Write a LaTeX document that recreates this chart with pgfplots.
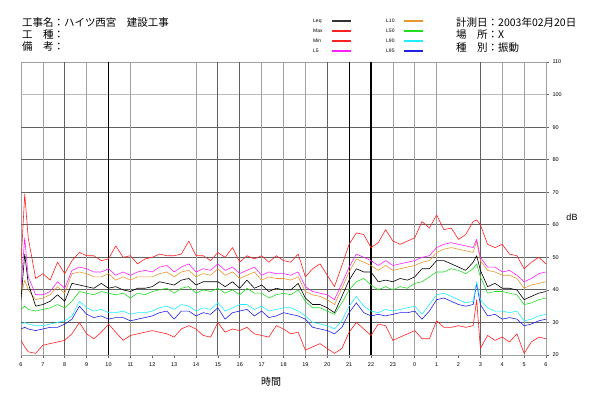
\documentclass[border=0pt]{standalone}
\usepackage{pgfplots}
\usepackage{pgfplotstable}
\pgfplotsset{compat=1.18}
\usepackage{fontspec}
\setmainfont{Liberation Sans}
\newfontfamily\jp{Noto Sans CJK JP}
\definecolor{cMax}{HTML}{FF2020}
\definecolor{cL5}{HTML}{FF20FF}
\definecolor{cL10}{HTML}{E89830}
\definecolor{cL50}{HTML}{22DD22}
\definecolor{cL90}{HTML}{20EEFF}
\definecolor{cL95}{HTML}{2020E8}
\definecolor{gDark}{HTML}{606060}
\definecolor{gMid}{HTML}{A0A0A0}
\definecolor{gLight}{HTML}{BBBBBB}

\pgfplotstableread{
h mx l5 l10 leq l50 l90 l95 mn
6.00 48 41 38 37 34 29.5 28 24.5
6.17 69.5 56 43 51 35 30 28.5 22.5
6.33 56 44 40 42 34 29.5 28 21
6.67 43.5 38.5 37 35 33.5 29 27.5 20.5
7.00 45 38.5 37.5 35.5 34 29 28 23
7.33 43 39.5 38.5 36.5 34.5 29.5 28.5 23.5
7.67 48.5 42.5 41 38.5 35.5 30 28.5 24
8.00 45 40.5 39 36.5 34.5 30.5 29.5 24.5
8.33 49 46 45 42 36.5 32 31 26.5
8.67 51.5 47 45.5 41.5 39.5 36.5 35 30
9.00 50.5 46.5 45 41 39 34.5 32.5 26.5
9.33 50.5 45.5 44 40.5 38.5 33.5 31.5 25
9.67 49 45.5 44 42 39.5 34 32 27
10.00 49.5 46.5 45 40.5 39 33 31 29.5
10.33 53.5 44.5 43 41 38.5 33 31.5 27
10.67 50 45.5 44 40 39 33.5 31.5 24.5
11.00 50.5 44.5 43 39.5 37.5 32.5 30.5 26
11.33 48 45.5 44 40.5 39 33 31 26.5
11.67 49.5 46 44 40.5 38.5 33 31.5 27
12.00 50 45.5 44 41 39.5 33.5 32 27.5
12.33 51 47 45 42.5 40 34.5 33 27
12.67 50.5 47.5 45.5 42 40.5 35 33.5 26.5
13.00 50.5 45.5 44 41.5 39 34 31 25.5
13.33 51 47 45.5 43 40.5 35.5 33.5 28
13.67 55 48 46 43.5 41 35 33.5 29
14.00 50.5 45.5 44 41.5 39 33.5 32 28
14.33 50.5 46.5 45 42.5 40 34.5 33 26
14.67 49 46 44.5 42.5 39.5 34 32.5 25.5
15.00 51.5 48 46.5 42.5 40.5 36 34.5 30
15.33 50 46 44.5 41 39 33.5 31 27
15.67 53 47 45.5 42.5 40 34.5 33 28
16.00 48.5 45 43.5 40.5 38.5 35.5 33.5 27.5
16.33 50.5 46 44.5 43 40.5 35.5 34 28.5
16.67 49.5 47 45.5 40.5 39 34 32 26.5
17.00 50.5 44.5 43 41.5 39 35 33.5 26
17.33 48.5 45.5 44 39.5 37.5 33.5 31.5 25.5
17.67 50.5 45 43.5 40.5 38.5 34 32 29
18.00 49 45 43.5 40 39 34.5 33 28
18.33 48.5 44.5 43 40 38.5 34.5 32.5 26.5
18.67 51 45.5 44 42 40 33.5 32 27
19.00 44 41 39.5 37.5 36.5 32 31 21.5
19.33 46.5 39.5 38.5 35.5 34.5 30 28.5 22.5
19.67 48 39 38 35.5 34.5 29.5 28 23.5
20.00 44.5 38.5 37 34.5 33.5 29 27.5 22
20.33 41 37 35.5 33 32.5 28 26.5 20.5
20.67 47.5 42 40.5 38 36 30.5 28.5 22
21.00 54 47 45.5 43 40 35 33 27
21.33 57.5 51 49.5 46.5 42.5 38 36 30
21.67 57 50 48.5 45.5 43.5 35 33 28
22.00 53 49 47.5 45.5 41.5 33.5 32 26
22.33 54.5 47.5 46 42.5 40 33 32.5 29.5
22.67 58.5 49 47.5 43 41 34 32 29
23.00 55 47.5 46 42.5 40 33.5 32.5 24.5
23.33 54 48 46.5 43.5 41 34 33 25.5
23.67 55 48.5 47 43 40.5 34.5 33 26.5
24.00 56 49 47.5 44 42 35 33.5 27.5
24.33 61 50 48.5 46.5 42.5 32.5 31 25
24.67 59 50.5 49 46.5 44 35.5 33.5 25
25.00 63 53 51.5 49 45.5 38.5 37 30.5
25.33 58.5 54 52.5 49 45.5 39 37.5 28.5
25.67 59 54.5 53 48 46.5 38 36.5 28.5
26.00 55.5 54 52.5 47 46 37 35.5 29
26.33 57 53.5 52 46 45 36 35 28.5
26.67 61 53 51.5 48.5 46.5 36.5 35.5 29
26.83 61.5 55.5 55 50.5 48 42.5 42 37
27.00 60 50 49 46 44 37 35.5 22
27.33 54 47 46 41 39 34.5 32 26
27.67 53 47 45.5 42 39.5 33.5 32.5 24.5
28.00 54 45.5 44.5 40.5 39.5 33.5 31 25.5
28.33 51 46 44.5 40.5 39 33 31.5 24
28.67 50.5 44.5 43.5 40 38.5 33.5 31 26.5
29.00 46.5 42.5 40.5 37 35.5 30.5 29 20.5
29.33 48.5 43.5 41.5 38 36 31 29.5 24
29.67 50 45 42 39 37 32 30.5 25.5
30.00 48 45.5 42.5 39.5 37.5 32.5 31 25
}\data

\begin{document}
\begin{tikzpicture}[x=1pt,y=1pt]
\path[use as bounding box] (0,0) rectangle (598,400);
% header
\begin{scope}[every node/.style={anchor=west, inner sep=0pt, font=\jp\fontsize{10.5}{12}\selectfont}]
\node at (22,377) {工事名：ハイツ西宮　建設工事};
\node at (22,365) {工　種：};
\node at (22,353) {備　考：};
\node at (456,377) {計測日：2003年02月20日};
\node at (456,365) {場　所：X};
\node at (456,352) {種　別：振動};
\end{scope}
% legend
\begin{scope}[every node/.style={anchor=west, inner sep=0pt, font=\fontsize{5}{6}\selectfont}]
\node at (313,379) {Leq}; \draw[color=black!80, line width=1.1pt] (332,379) -- (351,379);
\node at (313,369) {Max}; \draw[color=cMax, line width=1.1pt] (332,369) -- (351,369);
\node at (313,359) {Min}; \draw[color=cMax, line width=1.1pt] (332,359) -- (351,359);
\node at (313,349) {L5};  \draw[color=cL5, line width=1.1pt] (332,349) -- (351,349);
\node at (386,379) {L10}; \draw[color=cL10, line width=1.1pt] (404,379) -- (423,379);
\node at (386,369) {L50}; \draw[color=cL50, line width=1.1pt] (404,369) -- (423,369);
\node at (386,359) {L90}; \draw[color=cL90, line width=1.1pt] (404,359) -- (423,359);
\node at (386,349) {L95}; \draw[color=cL95, line width=1.1pt] (404,349) -- (423,349);
\end{scope}
\begin{axis}[
  at={(21pt,45pt)}, anchor=south west, scale only axis,
  width=525pt, height=293pt,
  xmin=6, xmax=30, ymin=20, ymax=110,
  xtick={6,...,30},
  xticklabels={6,7,8,9,10,11,12,13,14,15,16,17,18,19,20,21,22,23,0,1,2,3,4,5,6},
  ytick={20,30,...,110},
  yticklabel pos=right, ytick pos=right, xtick pos=bottom,
  tick align=outside, major tick length=3pt,
  tick style={gDark, line width=0.7pt},
  axis line style={gMid, line width=0.8pt},
  ticklabel style={font=\fontsize{5.5}{6}\selectfont},
  xticklabel style={yshift=-1.5pt},
  /pgf/number format/assume math mode=true,
  clip=true,
  every axis plot/.append style={line width=0.6pt, line join=round},
]
% horizontal grid
\foreach \yy in {30,40,50,60,70,80,90}{
  \edef\tmp{\noexpand\draw[color=gDark, line width=0.8pt] (axis cs:6,\yy) -- (axis cs:30,\yy);}\tmp
}
\draw[color=gLight, line width=0.8pt] (axis cs:6,100) -- (axis cs:30,100);
% vertical grid
\foreach \xx in {7,9,11,14,17,18,19,23,24,25,28,29}{
  \edef\tmp{\noexpand\draw[color=gMid, line width=0.7pt] (axis cs:\xx,20) -- (axis cs:\xx,110);}\tmp
}
\foreach \xx in {8,15,16,20,27}{
  \edef\tmp{\noexpand\draw[color=gDark, line width=0.9pt] (axis cs:\xx,20) -- (axis cs:\xx,110);}\tmp
}
\foreach \xx in {10,21,22}{
  \edef\tmp{\noexpand\draw[color=black, line width=1.1pt] (axis cs:\xx,20) -- (axis cs:\xx,110);}\tmp
}
\addplot[cL95] table[x=h,y=l95]{\data};
\addplot[cL90] table[x=h,y=l90]{\data};
\addplot[cL50] table[x=h,y=l50]{\data};
\addplot[cL10] table[x=h,y=l10]{\data};
\addplot[cL5] table[x=h,y=l5]{\data};
\addplot[cMax] table[x=h,y=mn]{\data};
\addplot[cMax] table[x=h,y=mx]{\data};
\addplot[black] table[x=h,y=leq]{\data};
\end{axis}
\node[font=\fontsize{9}{10}\selectfont] at (572,183) {dB};
\node[font=\jp\fontsize{10}{12}\selectfont] at (271,18) {時間};
\end{tikzpicture}
\end{document}
